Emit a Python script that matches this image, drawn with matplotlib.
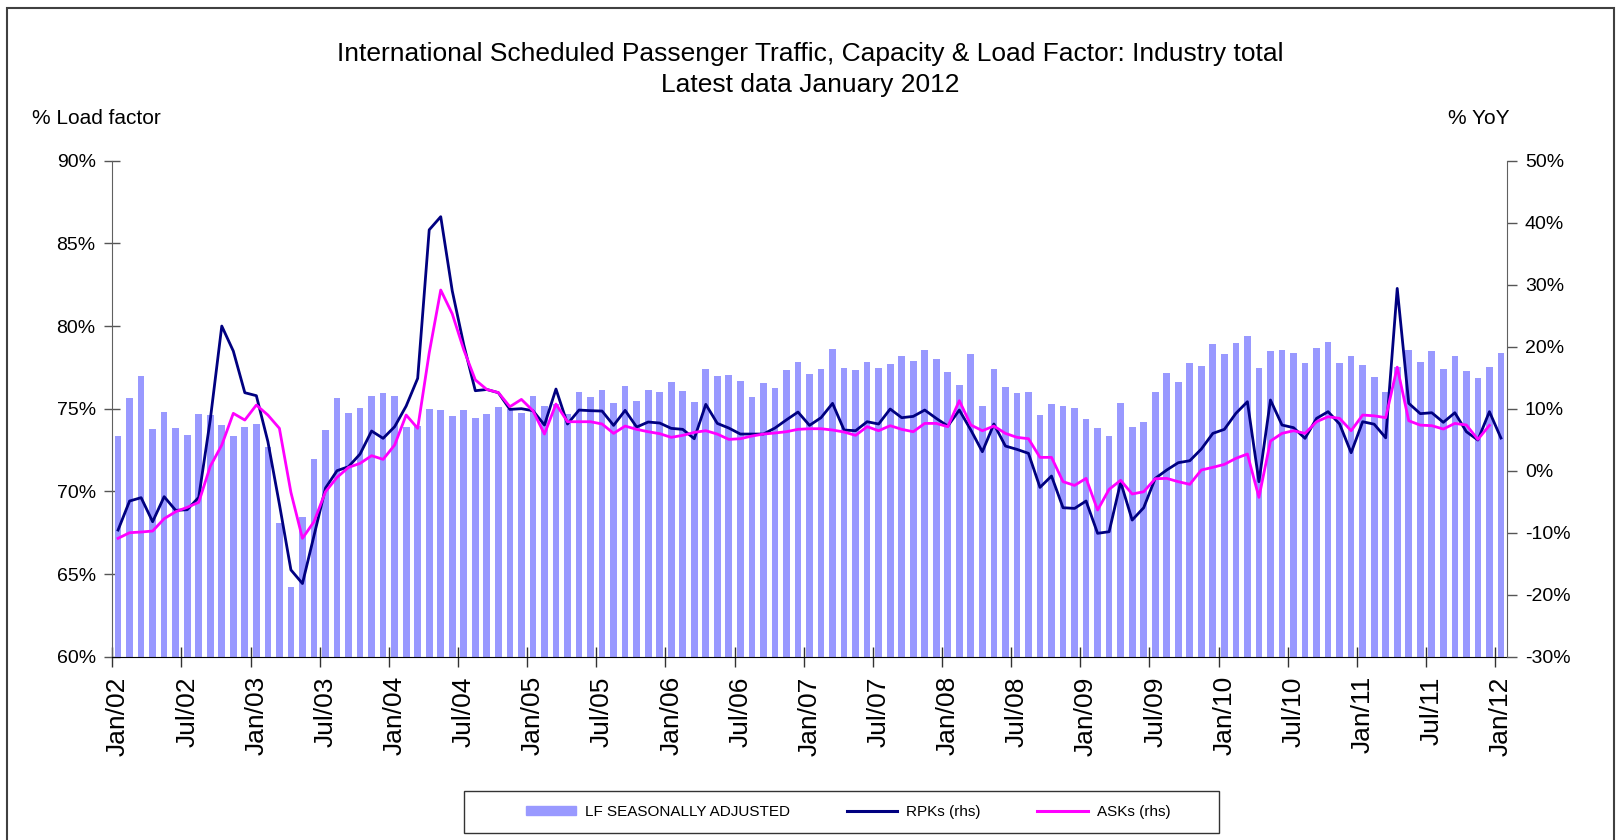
import numpy as np
import matplotlib
matplotlib.use("Agg")
import matplotlib.pyplot as plt
from matplotlib.patches import Rectangle
from matplotlib.lines import Line2D

plt.rcParams['font.family'] = ['Liberation Sans', 'DejaVu Sans']

# load factor, seasonally adjusted (%), Jan/02 .. Jan/12
lf = [73.35, 75.65, 77.0, 73.75, 74.8, 73.85, 73.4, 74.68, 74.62, 74.03,
      73.37, 73.9, 74.09, 72.7, 68.08, 64.19, 68.47, 71.94, 73.71, 75.63,
      74.72, 75.06, 75.79, 75.95, 75.77, 73.9, 73.95, 74.96, 74.92, 74.56,
      74.92, 74.42, 74.68, 75.08, 75.0, 74.76, 75.77, 75.18, 75.3, 74.68,
      76.03, 75.73, 76.15, 75.36, 76.39, 75.48, 76.13, 76.01, 76.61, 76.07,
      75.4, 77.42, 76.96, 77.02, 76.65, 75.73, 76.55, 76.25, 77.35, 77.8,
      77.12, 77.4, 78.61, 77.48, 77.32, 77.8, 77.44, 77.7, 78.19, 77.9,
      78.57, 77.98, 77.2, 76.41, 78.33, 75.16, 77.38, 76.31, 75.93, 75.99,
      74.6, 75.26, 75.18, 75.02, 74.37, 73.81, 73.35, 75.33, 73.87, 74.19,
      75.99, 77.14, 76.59, 77.74, 77.58, 78.91, 78.33, 78.95, 79.38, 77.48,
      78.51, 78.55, 78.35, 77.78, 78.69, 79.01, 77.78, 78.21, 77.64, 76.93,
      75.98, 77.54, 78.55, 77.81, 78.51, 77.38, 78.17, 77.28, 76.88, 77.54,
      78.37]

# RPKs, % YoY
rpk = [-9.57, -4.89, -4.35, -8.23, -4.19, -6.4, -6.29, -4.3, 8.2, 23.33,
       19.3, 12.58, 12.1, 4.7, -5.4, -16.0, -18.2, -10.5, -2.8, 0.0,
       0.65, 2.69, 6.4, 5.22, 7.1, 10.43, 14.9, 38.85, 40.97, 29.0,
       20.3, 12.9, 13.1, 12.58, 9.89, 10.0, 9.68, 7.37, 13.17, 7.53,
       9.78, 9.68, 9.62, 7.31, 9.73, 7.04, 7.85, 7.69, 6.83, 6.67,
       5.16, 10.7, 7.63, 6.88, 5.91, 5.91, 5.91, 6.88, 8.2, 9.46,
       7.31, 8.55, 10.86, 6.56, 6.45, 7.9, 7.53, 9.95, 8.55, 8.76,
       9.78, 8.44, 7.2, 9.78, 6.56, 3.06, 7.53, 3.98, 3.44, 2.8,
       -2.69, -0.86, -5.97, -6.08, -4.89, -10.1, -9.84, -1.85, -7.96, -5.97,
       -1.24, 0.11, 1.29, 1.61, 3.49, 6.02, 6.67, 9.25, 11.13, -1.77,
       11.4, 7.37, 6.94, 5.22, 8.44, 9.52, 7.53, 2.9, 7.9, 7.5,
       5.3, 29.4, 10.87, 9.2, 9.35, 7.8, 9.35, 6.29, 4.95, 9.52,
       5.27]

# ASKs, % YoY (no value yet for Jan/12)
ask = [-10.91, -10.0, -9.89, -9.73, -7.74, -6.61, -5.91, -5.1, 0.7, 4.14,
       9.25, 8.17, 10.59, 8.98, 6.83, -3.5, -10.91, -8.23, -3.39, -1.08,
       0.54, 1.18, 2.42, 1.83, 4.14, 8.98, 6.83, 19.0, 29.14, 25.3,
       19.5, 14.65, 13.1, 12.6, 10.32, 11.5, 9.68, 5.91, 10.75, 7.9,
       7.9, 7.9, 7.53, 6.02, 7.2, 6.67, 6.29, 5.97, 5.38, 5.7,
       6.18, 6.45, 5.91, 5.05, 5.16, 5.59, 5.91, 6.08, 6.29, 6.67,
       6.77, 6.77, 6.56, 6.24, 5.7, 7.1, 6.45, 7.26, 6.67, 6.29,
       7.63, 7.63, 7.1, 11.29, 7.37, 6.45, 7.2, 6.02, 5.38, 5.16,
       2.15, 2.15, -1.77, -2.37, -1.24, -6.34, -3.01, -1.55, -3.76, -3.39,
       -1.29, -1.24, -1.77, -2.2, 0.11, 0.54, 1.02, 1.99, 2.69, -4.3,
       4.78, 6.02, 6.45, 6.02, 7.9, 8.71, 8.44, 6.45, 8.98, 8.85,
       8.55, 16.7, 8.06, 7.35, 7.26, 6.72, 7.63, 7.37, 5.05, 7.31,
       np.nan]

tick_labels = ['Jan/02', 'Jul/02', 'Jan/03', 'Jul/03', 'Jan/04', 'Jul/04',
               'Jan/05', 'Jul/05', 'Jan/06', 'Jul/06', 'Jan/07', 'Jul/07',
               'Jan/08', 'Jul/08', 'Jan/09', 'Jul/09', 'Jan/10', 'Jul/10',
               'Jan/11', 'Jul/11', 'Jan/12']

W, H = 1621, 840
fig = plt.figure(figsize=(W / 100, H / 100), dpi=100)

# axes box in pixels: x 112..1507, y 161..657
ax = fig.add_axes([112.3 / W, 1 - 656.7 / H, (1506.7 - 112.3) / W, (656.7 - 160.7) / H])
x = np.arange(len(lf))
ax.bar(x, lf, width=0.58, color='#9999ff', zorder=2)
ax.set_xlim(-0.5, len(lf) - 0.5)
ax.set_ylim(60, 90)
ax.set_yticks(np.arange(60, 91, 5))
ax.set_yticklabels([f'{v}%' for v in range(60, 91, 5)], fontsize=14)

# category ticks between months, labels under month
ax.set_xticks(np.arange(-0.5, len(lf), 6))
ax.set_xticklabels([])
ax.set_xticks(np.arange(0, len(lf), 6), minor=True)
ax.set_xticklabels(tick_labels, minor=True, rotation=90, fontsize=19)
ax.tick_params(axis='x', which='major', direction='inout', length=14, width=1, color='#333333')
ax.tick_params(axis='x', which='minor', length=0, pad=14)
ax.tick_params(axis='y', direction='inout', length=12, width=1, color='#555555', pad=6)

for s in ['top', 'right']:
    ax.spines[s].set_visible(False)
ax.spines['left'].set_color('#606060')
ax.spines['bottom'].set_color('black')

ax2 = ax.twinx()
ax2.plot(x, rpk, color='#000080', lw=2.0, zorder=3)
ax2.plot(x, ask, color='#ff00ff', lw=2.0, zorder=3)
ax2.set_ylim(-30, 50)
ax2.set_yticks(np.arange(-30, 51, 10))
ax2.set_yticklabels([f'{v}%' for v in range(-30, 51, 10)], fontsize=14)
ax2.tick_params(axis='y', direction='out', length=7, width=1, color='#555555', pad=6)
for s in ['top', 'left', 'bottom']:
    ax2.spines[s].set_visible(False)
ax2.spines['right'].set_color('#606060')

fig.text(0.5, 1 - 54 / H, 'International Scheduled Passenger Traffic, Capacity & Load Factor: Industry total',
         ha='center', va='center', fontsize=19)
fig.text(0.5, 1 - 85 / H, 'Latest data January 2012', ha='center', va='center', fontsize=19)
fig.text(32 / W, 1 - 119 / H, '% Load factor', ha='left', va='center', fontsize=15)
fig.text(1510 / W, 1 - 119 / H, '% YoY', ha='right', va='center', fontsize=15)

# legend in its own box at the bottom
handles = [Rectangle((0, 0), 1, 1, color='#9999ff'),
           Line2D([], [], color='#000080', lw=2.2),
           Line2D([], [], color='#ff00ff', lw=2.2)]
fig.legend(handles, ['LF SEASONALLY ADJUSTED', 'RPKs (rhs)', 'ASKs (rhs)'],
           loc='center', bbox_to_anchor=(848 / W, 1 - 812 / H), ncol=3, frameon=False,
           fontsize=11, handlelength=3.3, handleheight=0.5, handletextpad=0.6, columnspacing=3.7)
fig.patches.append(Rectangle((464 / W, 1 - 833 / H), (1219 - 464) / W, 42 / H,
                             transform=fig.transFigure, fill=False, ec='#333333', lw=1))

# outer frame of the chart
fig.patches.append(Rectangle((7 / W, -0.02), (1614 - 7) / W, 1.02 - 8 / H,
                             transform=fig.transFigure, fill=False, ec='#404040', lw=1.5))

fig.savefig('out.png', dpi=100)
